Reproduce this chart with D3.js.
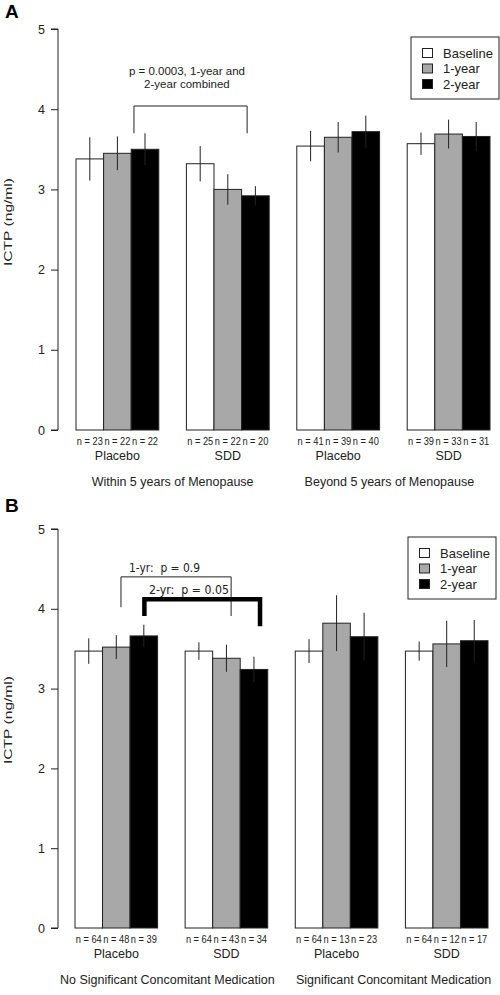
<!DOCTYPE html>
<html><head><meta charset="utf-8">
<script src="https://cdn.jsdelivr.net/npm/d3@7"></script>
<style>body{margin:0;background:#fff}text{font-family:"Liberation Sans",Arial,sans-serif}</style>
</head><body><svg id="c" width="500" height="995"></svg>
<script>
// ---- data ----
const series = ["Baseline", "1-year", "2-year"];
const seriesColors = ["#ffffff", "#a8a8a8", "#000000"];
const treatments = ["Placebo", "SDD", "Placebo", "SDD"];
const yTicks = [0, 1, 2, 3, 4, 5];

const groupsA = ["Within 5 years of Menopause", "Beyond 5 years of Menopause"];
const meansA = [[3.38, 3.45, 3.50], [3.32, 3.00, 2.92], [3.54, 3.65, 3.72], [3.57, 3.69, 3.66]];
const errA   = [[0.27, 0.21, 0.20], [0.22, 0.19, 0.12], [0.19, 0.19, 0.20], [0.14, 0.18, 0.18]];
const nA     = [[23, 22, 22], [25, 22, 20], [41, 39, 40], [39, 33, 31]];

const groupsB = ["No Significant Concomitant Medication", "Significant Concomitant Medication"];
const meansB = [[3.47, 3.52, 3.66], [3.47, 3.38, 3.24], [3.47, 3.82, 3.65], [3.47, 3.56, 3.60]];
const errB   = [[0.16, 0.15, 0.14], [0.11, 0.17, 0.16], [0.15, 0.35, 0.30], [0.12, 0.29, 0.26]];
const nB     = [[64, 48, 39], [64, 43, 34], [64, 13, 23], [64, 12, 17]];

const svg = d3.select("#c");

function panel(o) {
  const g = svg.append("g");
  const y = d3.scaleLinear().domain([0, 5]).range([o.y0, o.y5]);
  const x = d3.scaleLinear().domain([0, 15]).range([o.x0, o.x15]);
  const u = x(1) - x(0);

  // panel letter
  g.append("text").attr("x", 5).attr("y", o.letterY).attr("font-size", 19).attr("font-weight", "bold").text(o.letter);

  // y axis
  const ax = g.append("g").attr("transform", `translate(${o.axisX},0)`)
    .call(d3.axisLeft(y).tickValues(yTicks).tickSize(7).tickPadding(6).tickFormat(d3.format("d")));
  ax.select(".domain").attr("d", `M-7,${y(0)}H0V${y(5)}H-7`).attr("stroke", "#222");
  ax.selectAll(".tick line").attr("stroke", "#222");
  ax.selectAll(".tick text").attr("font-size", 12.5).attr("fill", "#222").style("font-family", '"Liberation Sans",Arial,sans-serif');

  g.append("text").attr("transform", `translate(12,${o.labelY}) rotate(-90)`)
    .attr("text-anchor", "middle").attr("font-size", 11).attr("fill", "#222")
    .attr("textLength", 88).attr("lengthAdjust", "spacingAndGlyphs").text("ICTP (ng/ml)");

  // bars
  o.means.forEach((grp, gi) => {
    grp.forEach((v, bi) => {
      const pos = gi * 4 + bi;
      g.append("rect").attr("x", x(pos)).attr("y", y(v)).attr("width", u).attr("height", y(0) - y(v))
        .attr("fill", seriesColors[bi]).attr("stroke", "#222").attr("stroke-width", 1);
    });
  });
  // error bars
  o.means.forEach((grp, gi) => {
    grp.forEach((v, bi) => {
      const cx = x(gi * 4 + bi + 0.5);
      const e = o.errs[gi][bi];
      g.append("line").attr("x1", cx).attr("x2", cx).attr("y1", y(v + e)).attr("y2", y(v - e))
        .attr("stroke", "#222").attr("stroke-width", 1);
    });
  });
  // n labels
  o.ns.forEach((grp, gi) => {
    grp.forEach((n, bi) => {
      g.append("text").attr("x", x(gi * 4 + bi + 0.5)).attr("y", o.y0 + 15).attr("text-anchor", "middle")
        .attr("font-size", 10.5).attr("fill", "#222").attr("textLength", 26).attr("lengthAdjust", "spacingAndGlyphs")
        .text("n = " + n);
    });
    g.append("text").attr("x", x(gi * 4 + 1.5)).attr("y", o.y0 + 30).attr("text-anchor", "middle")
      .attr("font-size", 12.5).attr("fill", "#222").text(treatments[gi]);
  });
  o.groups.forEach((lab, k) => {
    g.append("text").attr("x", x(k * 8 + 3.5) + o.groupDx[k]).attr("y", o.y0 + 56).attr("text-anchor", "middle")
      .attr("font-size", 12.5).attr("fill", "#222").text(lab);
  });

  // legend
  const lg = g.append("g").attr("transform", `translate(${o.legX},${o.legY})`);
  lg.append("rect").attr("width", 88).attr("height", 62).attr("fill", "#fff").attr("stroke", "#222").attr("stroke-width", 1);
  series.forEach((s, i) => {
    lg.append("rect").attr("x", 11.5).attr("y", 11.5 + i * 15.5).attr("width", 10).attr("height", 9)
      .attr("fill", seriesColors[i]).attr("stroke", "#222");
    lg.append("text").attr("x", 32).attr("y", 20.5 + i * 15.5).attr("font-size", 13).attr("fill", "#222").text(s);
  });
  return {g, x, y};
}

// Panel A
const A = panel({letter: "A", letterY: 18, y0: 430, y5: 29, x0: 76, x15: 490, axisX: 58, labelY: 222,
  means: meansA, errs: errA, ns: nA, groups: groupsA, groupDx: [0, -4], legX: 411, legY: 37});
A.g.append("path").attr("d", `M${A.x(2.1)},${A.y(3.70)}V${A.y(4.04)}H${A.x(6.2)}V${A.y(3.70)}`)
  .attr("fill", "none").attr("stroke", "#222").attr("stroke-width", 1);
A.g.append("text").attr("x", A.x(4.02)).attr("y", 75).attr("text-anchor", "middle").attr("font-size", 11.5).attr("fill", "#222").text("p = 0.0003, 1-year and");
A.g.append("text").attr("x", A.x(4.02)).attr("y", 87.5).attr("text-anchor", "middle").attr("font-size", 11.5).attr("fill", "#222").text("2-year combined");

// Panel B
const B = panel({letter: "B", letterY: 512, y0: 928, y5: 529, x0: 75, x15: 488, axisX: 58, labelY: 720,
  means: meansB, errs: errB, ns: nB, groups: groupsB, groupDx: [-4, 2], legX: 408, legY: 537});
B.g.append("path").attr("d", `M${B.x(1.67)},${B.y(4.02)}V${B.y(4.40)}H${B.x(5.67)}V${B.y(3.91)}`)
  .attr("fill", "none").attr("stroke", "#222").attr("stroke-width", 1);
B.g.append("path").attr("d", `M${B.x(2.52)},${B.y(3.91)}V${B.y(4.12)}H${B.x(6.72)}V${B.y(3.78)}`)
  .attr("fill", "none").attr("stroke", "#000").attr("stroke-width", 4.5);
B.g.append("text").attr("x", 129).attr("y", 572).attr("font-size", 12).attr("fill", "#222")
  .style("font-family", '"DejaVu Sans",Verdana,sans-serif').style("white-space", "pre")
  .attr("textLength", 71).attr("lengthAdjust", "spacingAndGlyphs").text("1-yr:  p = 0.9");
B.g.append("text").attr("x", 149).attr("y", 594).attr("font-size", 12).attr("fill", "#222")
  .style("font-family", '"DejaVu Sans",Verdana,sans-serif').style("white-space", "pre")
  .attr("textLength", 80).attr("lengthAdjust", "spacingAndGlyphs").text("2-yr:  p = 0.05");
</script></body></html>
